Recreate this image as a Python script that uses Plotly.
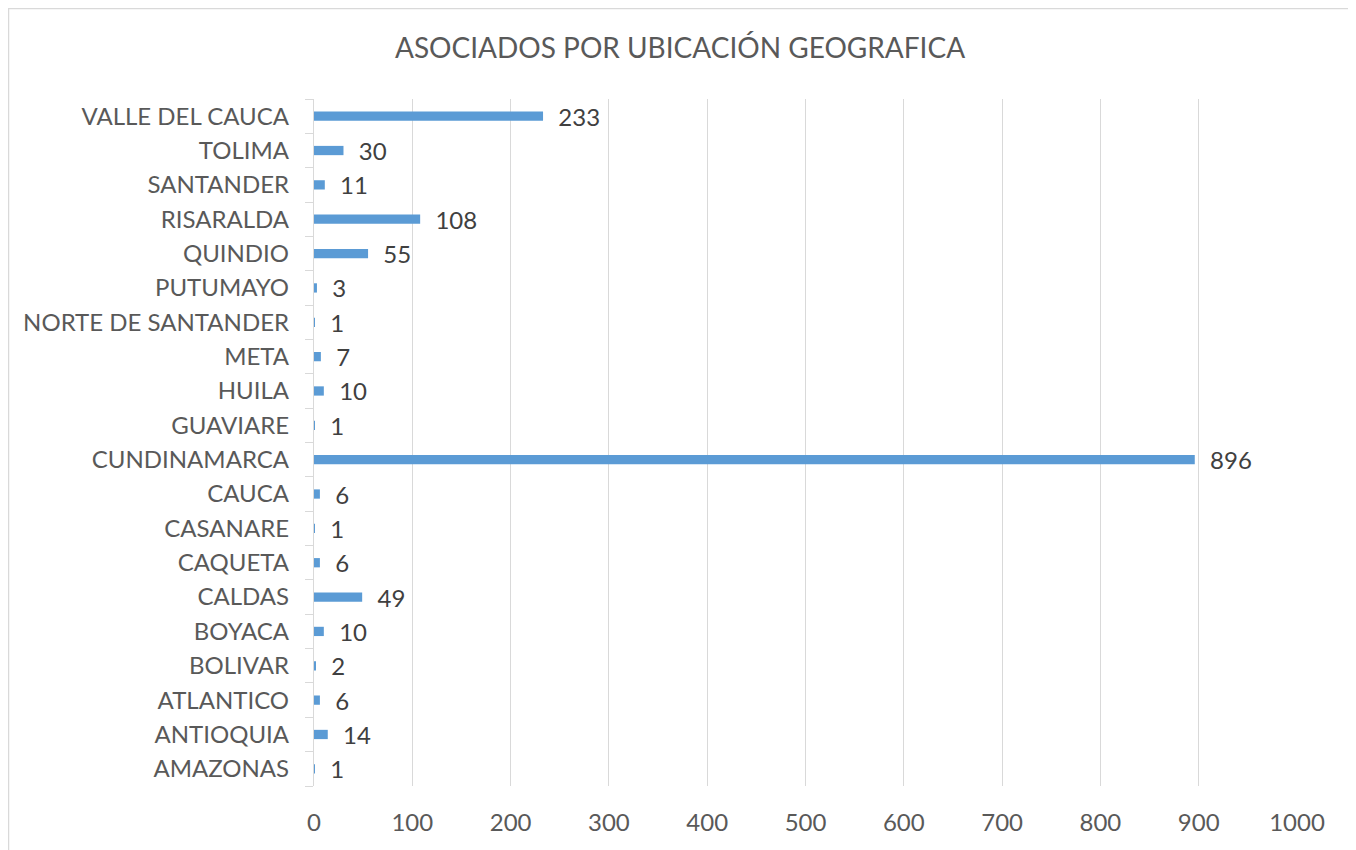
import plotly.graph_objects as go

# datos (de abajo hacia arriba)
departamentos = ["AMAZONAS", "ANTIOQUIA", "ATLANTICO", "BOLIVAR", "BOYACA", "CALDAS",
                 "CAQUETA", "CASANARE", "CAUCA", "CUNDINAMARCA", "GUAVIARE", "HUILA",
                 "META", "NORTE DE SANTANDER", "PUTUMAYO", "QUINDIO", "RISARALDA",
                 "SANTANDER", "TOLIMA", "VALLE DEL CAUCA"]
asociados = [1, 14, 6, 2, 10, 49, 6, 1, 6, 896, 1, 10, 7, 1, 3, 55, 108, 11, 30, 233]
ticks_x = [0, 100, 200, 300, 400, 500, 600, 700, 800, 900, 1000]

family_font = "Lato"
gris = "#595959"

fig = go.Figure()
fig.add_trace(go.Bar(
    x=asociados, y=departamentos, orientation="h",
    marker=dict(color="#5B9BD5", line=dict(width=0)),
    text=asociados, texttemplate="  %{text}", textposition="outside",
    constraintext="none",
    textfont=dict(family=family_font, size=24, color="#404040"),
    cliponaxis=False,
))

fig.update_layout(
    width=1356, height=850,
    margin=dict(l=306, r=67, t=91, b=72),
    paper_bgcolor="white", plot_bgcolor="white",
    bargap=0.73,
    showlegend=False,
    font=dict(family=family_font, color=gris),
    title=dict(text="ASOCIADOS POR UBICACIÓN GEOGRAFICA", x=0.4956, xref="container",
               xanchor="center", y=1 - 40 / 850, yref="container", yanchor="middle",
               font=dict(family=family_font, size=28, color=gris)),
    xaxis=dict(range=[0, 1000], tickvals=ticks_x, showgrid=True, gridcolor="#d9d9d9",
               gridwidth=1.3, zeroline=False, showline=False, automargin=False,
               tickfont=dict(size=24, color=gris), ticks="", ticklabelstandoff=20),
    yaxis=dict(categoryorder="array", categoryarray=departamentos, automargin=False,
               showline=True, linecolor="#d9d9d9", linewidth=1.3,
               ticks="outside", tickson="boundaries", ticklen=8, tickcolor="#d9d9d9",
               tickfont=dict(size=24, color=gris), showgrid=False, ticklabelstandoff=19),
    shapes=[dict(type="rect", xref="paper", yref="paper",
                 x0=-0.3108, x1=1.057, y0=-0.105, y1=1.1317,
                 line=dict(color="#d9d9d9", width=1.5), fillcolor="rgba(0,0,0,0)",
                 layer="below")],
)

fig.write_html("out.html")
